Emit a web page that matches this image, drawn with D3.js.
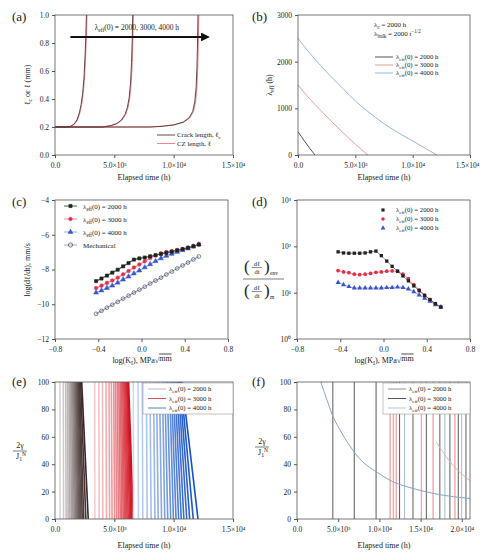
<!DOCTYPE html>
<html>
<head>
<meta charset="utf-8">
<script src="https://cdnjs.cloudflare.com/ajax/libs/d3/7.8.5/d3.min.js"></script>
<style>
  body { margin: 0; background: #fff; }
  text { font-family: "Liberation Serif", "DejaVu Serif", serif; fill: #222; }
</style>
</head>
<body>
<svg id="fig" width="480" height="552"></svg>
<script>
// ---- data ----
var timeTicks = [0, 5000, 10000, 15000];
var timeTicksF = [0, 5000, 10000, 15000, 20000];
var timeLabels = {0: "0.0", 5000: "5.0×10³", 10000: "1.0×10⁴", 15000: "1.5×10⁴", 20000: "2.0×10⁴"};
var groups = ["2000 h", "3000 h", "4000 h"];

// (a) crack length (dark) and CZ length (red), mm
var a1T = [0, 1000, 1300, 1600, 1850, 2050, 2200, 2330, 2440, 2530, 2600, 2650];
var a1L = [0.2, 0.2, 0.205, 0.22, 0.25, 0.30, 0.36, 0.44, 0.55, 0.70, 0.85, 1.0];
var a2T = [0, 4000, 4700, 5200, 5600, 5900, 6100, 6250, 6370, 6450, 6510, 6550];
var a2L = [0.2, 0.2, 0.21, 0.225, 0.25, 0.29, 0.34, 0.41, 0.52, 0.66, 0.83, 1.0];
var a3T = [0, 8000, 9000, 10000, 10800, 11300, 11600, 11780, 11890, 11960, 12010, 12050];
var a3L = [0.2, 0.2, 0.205, 0.215, 0.235, 0.265, 0.31, 0.38, 0.48, 0.62, 0.80, 1.0];
var a1Tcz = [0, 1000, 1350, 1650, 1900, 2100, 2250, 2380, 2490, 2580, 2650, 2700];
var a2Tcz = [0, 4000, 4750, 5260, 5660, 5960, 6160, 6310, 6430, 6510, 6570, 6610];
var a3Tcz = [0, 8000, 9060, 10060, 10870, 11370, 11670, 11850, 11960, 12030, 12080, 12120];

// (b) lambda_eff vs time
var bDarkT = [0, 500, 1000, 1480];
var bDark = [500, 320, 150, 0];
var bRedT = [0, 1000, 2000, 3000, 4000, 5000, 6100];
var bRed = [1500, 1210, 950, 700, 460, 230, 0];
var bBlueT = [0, 1000, 2000, 3000, 4000, 5000, 6000, 7000, 8000, 9000, 10000, 11000, 12100];
var bBlue = [2500, 2190, 1910, 1650, 1400, 1160, 950, 760, 590, 440, 300, 160, 0];

// (c) log crack rate vs log K
var logK = [-0.42, -0.37, -0.32, -0.27, -0.22, -0.17, -0.12, -0.07, -0.02, 0.03,
            0.08, 0.13, 0.18, 0.23, 0.28, 0.33, 0.38, 0.43, 0.48, 0.53];
var cBlack = [-8.67, -8.52, -8.35, -8.18, -8.01, -7.82, -7.63, -7.43, -7.36, -7.31,
              -7.24, -7.18, -7.11, -7.04, -6.98, -6.90, -6.83, -6.75, -6.66, -6.56];
var cRed = [-9.07, -8.93, -8.77, -8.63, -8.47, -8.28, -8.09, -7.89, -7.71, -7.53,
            -7.34, -7.18, -7.07, -6.99, -6.94, -6.88, -6.82, -6.75, -6.66, -6.56];
var cBlue = [-9.33, -9.21, -9.07, -8.93, -8.76, -8.58, -8.41, -8.23, -8.06, -7.88,
             -7.70, -7.52, -7.36, -7.21, -7.10, -6.99, -6.89, -6.79, -6.68, -6.56];
var cMech = [-10.55, -10.38, -10.20, -10.03, -9.86, -9.68, -9.51, -9.33, -9.16, -8.99,
             -8.81, -8.64, -8.47, -8.29, -8.12, -7.94, -7.77, -7.60, -7.42, -7.25];

// (d) rate ratio env / mechanical
var dBlack = [76, 72, 71, 71, 71, 72, 76, 79, 63, 48, 37, 29, 23, 18, 14, 11, 8.7, 7.1, 5.8, 4.9];
var dRed = [30, 28, 27, 25, 24.5, 25, 26, 27.5, 28, 29, 29.5, 29, 25, 20, 15, 11.5, 8.9, 7.1, 5.8, 4.9];
var dBlue = [16.6, 14.8, 13.5, 12.6, 12.6, 12.6, 12.6, 12.6, 12.6, 12.9,
             12.9, 13.2, 12.9, 12, 10.5, 8.9, 7.6, 6.5, 5.5, 4.9];

// (e) front lines: time at top (y=100) and bottom (y=0)
var eGrayTop = [420, 700, 900, 1050, 1180, 1290, 1390, 1480, 1560, 1640, 1710, 1780, 1850, 1920, 1990, 2060, 2150, 2250];
var eGrayBot = [430, 720, 940, 1110, 1260, 1390, 1510, 1620, 1720, 1820, 1910, 2000, 2090, 2190, 2300, 2420, 2600, 2800];
var eRedTop = [3350, 3700, 4000, 4300, 4550, 4750, 4950, 5100, 5250, 5380, 5500, 5600, 5700, 5790, 5870, 5950, 6030, 6100, 6150, 6200];
var eRedBot = [3360, 3720, 4030, 4340, 4600, 4810, 5020, 5190, 5350, 5500, 5630, 5750, 5860, 5970, 6070, 6170, 6280, 6380, 6480, 6600];
var eBlueTop = [6600, 7000, 7350, 7700, 8000, 8300, 8550, 8800, 9050, 9250, 9450, 9650, 9800, 9950, 10100, 10250, 10380, 10500, 10600, 10700];
var eBlueBot = [6620, 7030, 7400, 7770, 8100, 8420, 8700, 8980, 9250, 9500, 9750, 9980, 10200, 10420, 10640, 10860, 11100, 11350, 11650, 12050];

// (f) vertical lines and decaying curve
var fDark = [4350, 6950, 9600, 12450, 14080, 15700, 17340, 18560, 19580, 20510];
var fRed = [11300, 11700, 12050, 15100, 16520, 19170];
var fBlue = [13060, 17950, 19980];
var fCurveT = [2890, 3580, 4310, 5130, 6350, 7980, 9610, 11640, 14080, 16520, 18960, 21000];
var fCurveY = [100, 87.9, 75.7, 66, 53.9, 41.7, 34.5, 27.2, 22.3, 18.7, 16.3, 15];
var fPinkT = [16930, 18960, 21000];
var fPinkY = [56, 39, 28];

// ---- helpers ----
var svg = d3.select("#fig");
var FS = 7.5;

function rich(sel, parts, size) {
  var shift = 0;
  parts.forEach(function(p) {
    var s = p[1] === "sub" ? size * 0.3 : p[1] === "sup" ? -size * 0.4 : 0;
    sel.append("tspan").attr("dy", s - shift)
      .attr("font-size", p[1] ? size * 0.72 : size).text(p[0]);
    shift = s;
  });
  return sel;
}
function lamEff(val) { return [["λ", null], ["eff", "sub"], ["(0) = " + val, null]]; }

function frame(g, x, y) {
  g.append("rect")
    .attr("x", x.range()[0]).attr("y", y.range()[1])
    .attr("width", x.range()[1] - x.range()[0])
    .attr("height", y.range()[0] - y.range()[1])
    .attr("fill", "none").attr("stroke", "#555").attr("stroke-width", 0.8);
}
function axes(g, x, y, xt, xf, yt, yf) {
  var ax = g.append("g").attr("transform", `translate(0,${y.range()[0]})`)
    .call(d3.axisBottom(x).tickValues(xt).tickFormat(xf).tickSize(3).tickSizeOuter(0));
  var ay = g.append("g").attr("transform", `translate(${x.range()[0]},0)`)
    .call(d3.axisLeft(y).tickValues(yt).tickFormat(yf).tickSize(3).tickSizeOuter(0));
  [ax, ay].forEach(function(a) {
    a.select(".domain").remove();
    a.selectAll("line").attr("stroke", "#555");
    a.selectAll("text").attr("font-size", FS).attr("fill", "#222")
      .style("font-family", '"Liberation Serif", serif');
  });
  ax.selectAll("text").attr("dy", "0.9em");
  return ax;
}
function clip(id, x, y) {
  svg.append("clipPath").attr("id", id).append("rect")
    .attr("x", x.range()[0]).attr("y", y.range()[1])
    .attr("width", x.range()[1] - x.range()[0]).attr("height", y.range()[0] - y.range()[1]);
  return "url(#" + id + ")";
}
function label(txt, x, y) {
  svg.append("text").attr("x", x).attr("y", y).attr("font-size", 13).text(txt);
}
function xlab(x, y, parts) {
  var t = svg.append("text").attr("x", x).attr("y", y).attr("font-size", 8).attr("text-anchor", "middle");
  rich(t, parts, 8);
  return t;
}
function ylab(x, y, parts) {
  var t = svg.append("text").attr("transform", `translate(${x},${y}) rotate(-90)`)
    .attr("font-size", 8).attr("text-anchor", "middle");
  rich(t, parts, 8);
}
function pts(xs, ys) { return xs.map(function(d, i) { return [d, ys[i]]; }); }
var tf = function(d) { return timeLabels[d]; };

// ---- (a) ----
(function() {
  var x = d3.scaleLinear().domain([0, 15000]).range([55, 233]);
  var y = d3.scaleLinear().domain([0, 1]).range([155, 15]);
  var g = svg.append("g");
  var cp = clip("ca", x, y);
  var line = d3.line().x(d => x(d[0])).y(d => y(d[1]));
  var pl = g.append("g").attr("clip-path", cp);
  [[a1Tcz, a1L], [a2Tcz, a2L], [a3Tcz, a3L]].forEach(function(s) {
    pl.append("path").attr("d", line(pts(s[0], s[1]))).attr("fill", "none")
      .attr("stroke", "#e58080").attr("stroke-width", 0.9);
  });
  [[a1T, a1L], [a2T, a2L], [a3T, a3L]].forEach(function(s) {
    pl.append("path").attr("d", line(pts(s[0], s[1]))).attr("fill", "none")
      .attr("stroke", "#5a3030").attr("stroke-width", 0.9);
  });
  frame(g, x, y);
  axes(g, x, y, timeTicks, tf, [0, 0.2, 0.4, 0.6, 0.8, 1.0], d3.format(".1f"));
  // arrow
  svg.append("defs").append("marker").attr("id", "arr").attr("viewBox", "0 0 10 10")
    .attr("refX", 8).attr("refY", 5).attr("markerWidth", 4).attr("markerHeight", 4)
    .attr("orient", "auto").append("path").attr("d", "M0,0 L10,5 L0,10 z").attr("fill", "#111");
  g.append("line").attr("x1", x(1300)).attr("x2", x(12900)).attr("y1", y(0.843)).attr("y2", y(0.843))
    .attr("stroke", "#111").attr("stroke-width", 2.2).attr("marker-end", "url(#arr)");
  var at = g.append("text").attr("x", x(6900)).attr("y", y(0.893)).attr("text-anchor", "middle");
  rich(at, [["λ", null], ["eff", "sub"], ["(0) = 2000, 3000, 4000 h", null]], 7.5);
  // legend
  [["#5a3030", [["Crack length, ℓ", null], ["c", "sub"]]], ["#e58080", [["CZ length, ℓ", null]]]]
    .forEach(function(e, i) {
      var yy = 135 + i * 8.5;
      g.append("line").attr("x1", 157).attr("x2", 175).attr("y1", yy).attr("y2", yy)
        .attr("stroke", e[0]).attr("stroke-width", 0.9);
      rich(g.append("text").attr("x", 177).attr("y", yy + 2.3), e[1], 6.8);
    });
  label("(a)", 12, 21);
  xlab(144, 180, [["Elapsed time (h)", null]]);
  ylab(30, 85, [["ℓ", null], ["c", "sub"], [" or ℓ (mm)", null]]);
})();

// ---- (b) ----
(function() {
  var x = d3.scaleLinear().domain([0, 15000]).range([298, 470]);
  var y = d3.scaleLinear().domain([0, 3000]).range([155, 15]);
  var g = svg.append("g");
  var line = d3.line().x(d => x(d[0])).y(d => y(d[1])).curve(d3.curveMonotoneX);
  var cols = ["#555555", "#e99a9a", "#98b6dc"];
  [[bDarkT, bDark], [bRedT, bRed], [bBlueT, bBlue]].forEach(function(s, i) {
    g.append("path").attr("d", line(pts(s[0], s[1]))).attr("fill", "none")
      .attr("stroke", cols[i]).attr("stroke-width", 1);
  });
  frame(g, x, y);
  var ax = axes(g, x, y, timeTicks, tf, [0, 1000, 2000, 3000], d3.format("d"));
  ax.selectAll("text").filter(d => d === 15000).attr("dx", -3);
  rich(g.append("text").attr("x", 374).attr("y", 27), [["λ", null], ["c", "sub"], [" = 2000 h", null]], 7);
  rich(g.append("text").attr("x", 374).attr("y", 36),
    [["λ", null], ["bulk", "sub"], [" = 2000 t", null], ["−1/2", "sup"]], 7);
  groups.forEach(function(gr, i) {
    var yy = 57 + i * 8;
    g.append("line").attr("x1", 375).attr("x2", 393).attr("y1", yy).attr("y2", yy)
      .attr("stroke", cols[i]).attr("stroke-width", 1);
    rich(g.append("text").attr("x", 396).attr("y", yy + 2.3), lamEff(gr), 6.8);
  });
  label("(b)", 252, 21);
  xlab(384, 180, [["Elapsed time (h)", null]]);
  ylab(272, 85, [["λ", null], ["eff", "sub"], [" (h)", null]]);
})();

function klabel(cx, yy) {
  var t = xlab(cx, yy, [["log(K", null], ["I", "sub"], ["), MPa", null], ["√", null]]);
  t.append("tspan").attr("dy", -8 * 0.3 + 0).attr("font-size", 8)
    .attr("text-decoration", "overline").text("mm");
}

// ---- (c) ----
(function() {
  var x = d3.scaleLinear().domain([-0.8, 0.8]).range([55, 228]);
  var y = d3.scaleLinear().domain([-12, -4]).range([339, 200]);
  var g = svg.append("g");
  var line = d3.line().x(d => x(d[0])).y(d => y(d[1]));
  var series = [
    {v: cBlack, c: "#222222", lc: "#3a6a3a", m: d3.symbolSquare, fill: true},
    {v: cRed, c: "#e0304a", lc: "#f08a9a", m: d3.symbolCircle, fill: true},
    {v: cBlue, c: "#3a55d0", lc: "#8ab0ee", m: d3.symbolTriangle, fill: true},
    {v: cMech, c: "#333344", lc: "#9aa8c8", m: d3.symbolCircle, fill: false}
  ];
  series.slice().reverse().forEach(function(s) {
    g.append("path").attr("d", line(pts(logK, s.v))).attr("fill", "none")
      .attr("stroke", s.lc).attr("stroke-width", 1.2);
    g.selectAll(null).data(pts(logK, s.v)).enter().append("path")
      .attr("transform", d => `translate(${x(d[0])},${y(d[1])})`)
      .attr("d", d3.symbol().type(s.m).size(s.fill ? 10 : 11))
      .attr("fill", s.fill ? s.c : "none").attr("stroke", s.c).attr("stroke-width", 0.6);
  });
  frame(g, x, y);
  axes(g, x, y, [-0.8, -0.4, 0, 0.4, 0.8], d3.format(".1f"), [-12, -10, -8, -6, -4], d3.format("d"));
  var names = [lamEff("2000 h"), lamEff("3000 h"), lamEff("4000 h"), [["Mechanical", null]]];
  series.forEach(function(s, i) {
    var yy = 206 + i * 13;
    g.append("line").attr("x1", 64).attr("x2", 77).attr("y1", yy).attr("y2", yy)
      .attr("stroke", s.lc).attr("stroke-width", 1);
    g.append("path").attr("transform", `translate(70.5,${yy})`)
      .attr("d", d3.symbol().type(s.m).size(s.fill ? 10 : 14))
      .attr("fill", s.fill ? s.c : "none").attr("stroke", s.c).attr("stroke-width", 0.6);
    rich(g.append("text").attr("x", 83).attr("y", yy + 2.5), names[i], 7);
  });
  label("(c)", 12, 206);
  klabel(142, 363);
  ylab(30, 270, [["log(dℓ/dt), mm/s", null]]);
})();

// ---- (d) ----
(function() {
  var x = d3.scaleLinear().domain([-0.8, 0.8]).range([297, 470]);
  var y = d3.scaleLog().domain([1, 1000]).range([339, 200]);
  var g = svg.append("g");
  var series = [
    {v: dBlack, c: "#222222", m: d3.symbolSquare},
    {v: dRed, c: "#e0304a", m: d3.symbolCircle},
    {v: dBlue, c: "#3a55d0", m: d3.symbolTriangle}
  ];
  var line = d3.line().x(d => x(d[0])).y(d => y(d[1]));
  series.slice().reverse().forEach(function(s) {
    g.append("path").attr("d", line(pts(logK, s.v))).attr("fill", "none")
      .attr("stroke", s.c).attr("stroke-width", 0.9).attr("opacity", 0.6);
    g.selectAll(null).data(pts(logK, s.v)).enter().append("path")
      .attr("transform", d => `translate(${x(d[0])},${y(d[1])})`)
      .attr("d", d3.symbol().type(s.m).size(11)).attr("fill", s.c);
  });
  frame(g, x, y);
  var sup = {1: "10⁰", 10: "10¹", 100: "10²", 1000: "10³"};
  axes(g, x, y, [-0.8, -0.4, 0, 0.4, 0.8], d3.format(".1f"), [1, 10, 100, 1000], d => sup[d]);
  series.forEach(function(s, i) {
    var yy = 210 + i * 9;
    g.append("path").attr("transform", `translate(383,${yy})`)
      .attr("d", d3.symbol().type(s.m).size(10)).attr("fill", s.c);
    rich(g.append("text").attr("x", 396).attr("y", yy + 2.3), lamEff(groups[i]), 6.8);
  });
  label("(d)", 252, 206);
  klabel(384, 363);
  // fraction label
  function part(yc, sub) {
    svg.append("text").attr("x", 244).attr("y", yc + 5).attr("font-size", 17).text("(");
    svg.append("text").attr("x", 257).attr("y", yc - 1).attr("font-size", 6.5).attr("text-anchor", "middle").text("dℓ");
    svg.append("line").attr("x1", 252).attr("x2", 262).attr("y1", yc + 0.5).attr("y2", yc + 0.5).attr("stroke", "#222").attr("stroke-width", 0.5);
    svg.append("text").attr("x", 257).attr("y", yc + 6.5).attr("font-size", 6.5).attr("text-anchor", "middle").text("dt");
    svg.append("text").attr("x", 264).attr("y", yc + 5).attr("font-size", 17).text(")");
    svg.append("text").attr("x", 270).attr("y", yc + 8).attr("font-size", 5.5).text(sub);
  }
  part(267, "env");
  svg.append("line").attr("x1", 243).attr("x2", 284).attr("y1", 279).attr("y2", 279).attr("stroke", "#222").attr("stroke-width", 0.6);
  part(291, "m");
})();

function gammaLabel(cx, cy) {
  svg.append("text").attr("x", cx).attr("y", cy - 3).attr("font-size", 8).attr("text-anchor", "middle").text("2γ");
  svg.append("line").attr("x1", cx - 7).attr("x2", cx + 7).attr("y1", cy).attr("y2", cy).attr("stroke", "#222").attr("stroke-width", 0.6);
  var t = svg.append("text").attr("x", cx - 4).attr("y", cy + 8).attr("font-size", 8);
  rich(t, [["J", null], ["1", "sub"]], 8);
  t.append("tspan").attr("dy", -5).attr("font-size", 5.5).text("N");
}
function fLegend(g, cols, x0, x1) {
  g.append("rect").attr("x", x0).attr("y", 383).attr("width", x1 - x0).attr("height", 31)
    .attr("fill", "#fff").attr("stroke", "#999").attr("stroke-width", 0.6);
  groups.forEach(function(gr, i) {
    var yy = 389 + i * 9.5;
    g.append("line").attr("x1", x0 + 5).attr("x2", x0 + 23).attr("y1", yy).attr("y2", yy)
      .attr("stroke", cols[i]).attr("stroke-width", 0.9);
    rich(g.append("text").attr("x", x0 + 26).attr("y", yy + 2.3), lamEff(gr), 6.8);
  });
}

// ---- (e) ----
(function() {
  var x = d3.scaleLinear().domain([0, 15000]).range([55, 233]);
  var y = d3.scaleLinear().domain([0, 100]).range([519, 382]);
  var g = svg.append("g");
  var pl = g.append("g").attr("clip-path", clip("ce", x, y));
  var sets = [
    [eGrayTop, eGrayBot, "#d8d4d4", "#3a2626"],
    [eRedTop, eRedBot, "#f9cccc", "#d0101e"],
    [eBlueTop, eBlueBot, "#c9daf2", "#1452c4"]
  ];
  sets.forEach(function(s) {
    var col = d3.interpolateRgb(s[2], s[3]);
    s[0].forEach(function(tt, i) {
      pl.append("line").attr("x1", x(tt)).attr("y1", y(100)).attr("x2", x(s[1][i])).attr("y2", y(0))
        .attr("stroke", col(i / (s[0].length - 1))).attr("stroke-width", 1.6);
    });
  });
  frame(g, x, y);
  axes(g, x, y, timeTicks, tf, [0, 20, 40, 60, 80, 100], d3.format("d"));
  fLegend(g, ["#b8b0b0", "#d04040", "#4070c8"], 143, 233);
  label("(e)", 12, 386);
  xlab(144, 548, [["Elapsed time (h)", null]]);
  gammaLabel(20, 451);
})();

// ---- (f) ----
(function() {
  var x = d3.scaleLinear().domain([0, 21000]).range([297, 470]);
  var y = d3.scaleLinear().domain([0, 100]).range([519, 382]);
  var g = svg.append("g");
  var pl = g.append("g").attr("clip-path", clip("cf", x, y));
  [[fRed, "#f0a8a8", 1.4], [fBlue, "#a8c0e0", 1.1], [fDark, "#4a4a4a", 0.9]].forEach(function(s) {
    s[0].forEach(function(tt) {
      pl.append("line").attr("x1", x(tt)).attr("x2", x(tt)).attr("y1", y(0)).attr("y2", y(100))
        .attr("stroke", s[1]).attr("stroke-width", s[2]);
    });
  });
  var line = d3.line().x(d => x(d[0])).y(d => y(d[1])).curve(d3.curveMonotoneX);
  pl.append("path").attr("d", line(pts(fCurveT, fCurveY))).attr("fill", "none")
    .attr("stroke", "#8aa4c8").attr("stroke-width", 1);
  pl.append("path").attr("d", line(pts(fPinkT, fPinkY))).attr("fill", "none")
    .attr("stroke", "#e0b0b0").attr("stroke-width", 0.9);
  frame(g, x, y);
  axes(g, x, y, timeTicksF, tf, [0, 20, 40, 60, 80, 100], d3.format("d"));
  fLegend(g, ["#888888", "#444444", "#a8c0e0"], 383, 470);
  label("(f)", 252, 386);
  xlab(384, 548, [["Elapsed time (h)", null]]);
  gammaLabel(262, 447);
})();
</script>
</body>
</html>
